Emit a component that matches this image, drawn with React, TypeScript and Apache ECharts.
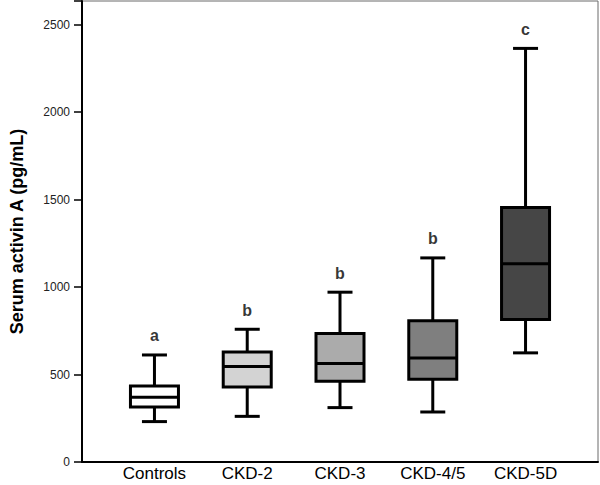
import React, { useEffect, useRef } from "react";
import * as echarts from "echarts";

const categories = ["Controls", "CKD-2", "CKD-3", "CKD-4/5", "CKD-5D"];
// [min, Q1, median, Q3, max]
const whiskerLow = [231, 261, 311, 286, 624];
const q1Values = [315, 429, 462, 473, 815];
const medians = [370, 546, 563, 595, 1133];
const q3Values = [435, 629, 735, 807, 1455];
const whiskerHigh = [612, 759, 971, 1167, 2365];
const letters = ["a", "b", "b", "b", "c"];
const boxColors = ["#ffffff", "#d3d3d3", "#ababab", "#7f7f7f", "#464646"];
const yTicks = [0, 500, 1000, 1500, 2000, 2500];

const FONT = "'Liberation Sans', Arial, sans-serif";

export default function App() {
  const ref = useRef<HTMLDivElement>(null);

  useEffect(() => {
    if (!ref.current) return;
    const chart = echarts.init(ref.current, null, { renderer: "svg" });

    const boxData = categories.map((_, i) => [
      i,
      whiskerLow[i],
      q1Values[i],
      medians[i],
      q3Values[i],
      whiskerHigh[i],
    ]);
    const letterData = categories.map((_, i) => [i, whiskerHigh[i]]);

    const BOX_W = 48;
    const CAP_W = 25;
    const LW = 3;

    chart.setOption({
      animation: false,
      grid: {
        left: 71,
        right: 2,
        top: 1,
        bottom: 23,
        show: true,
        borderColor: "#6a6a6a",
        borderWidth: 1,
        backgroundColor: "transparent",
      },
      xAxis: {
        type: "value",
        min: -0.781,
        max: 4.781,
        splitLine: { show: false },
        axisLine: { show: true, onZero: false, lineStyle: { color: "#000", width: 2 } },
        axisTick: { show: false },
        axisLabel: {
          customValues: [0, 1, 2, 3, 4],
          formatter: (v: number) => categories[Math.round(v)] ?? "",
          fontSize: 17,
          color: "#000",
          fontFamily: FONT,
          margin: 3,
        },
      },
      yAxis: {
        type: "value",
        min: 0,
        max: 2636,
        interval: 500,
        name: "Serum activin A (pg/mL)",
        nameLocation: "middle",
        nameGap: 56,
        nameTextStyle: {
          fontSize: 18,
          fontWeight: "bold",
          color: "#000",
          fontFamily: FONT,
        },
        splitLine: { show: false },
        axisLine: { show: true, onZero: false, lineStyle: { color: "#000", width: 2 } },
        axisTick: { show: true, length: 8, lineStyle: { color: "#000", width: 1.5 } },
        axisLabel: {
          customValues: yTicks,
          formatter: (v: number) => String(v),
          fontSize: 12,
          color: "#222",
          fontFamily: FONT,
          margin: 12,
        },
      },
      series: [
        {
          type: "custom",
          data: boxData,
          encode: { x: 0, y: [1, 2, 3, 4, 5] },
          renderItem: (params: any, api: any) => {
            const i = api.value(0);
            const pMin = api.coord([i, api.value(1)]);
            const pQ1 = api.coord([i, api.value(2)]);
            const pMed = api.coord([i, api.value(3)]);
            const pQ3 = api.coord([i, api.value(4)]);
            const pMax = api.coord([i, api.value(5)]);
            const cx = pMin[0];
            const lineStyle = { stroke: "#000", lineWidth: LW };
            return {
              type: "group",
              children: [
                {
                  type: "line",
                  shape: { x1: cx, y1: pQ3[1], x2: cx, y2: pMax[1] },
                  style: lineStyle,
                },
                {
                  type: "line",
                  shape: { x1: cx, y1: pQ1[1], x2: cx, y2: pMin[1] },
                  style: lineStyle,
                },
                {
                  type: "line",
                  shape: { x1: cx - CAP_W / 2, y1: pMax[1], x2: cx + CAP_W / 2, y2: pMax[1] },
                  style: lineStyle,
                },
                {
                  type: "line",
                  shape: { x1: cx - CAP_W / 2, y1: pMin[1], x2: cx + CAP_W / 2, y2: pMin[1] },
                  style: lineStyle,
                },
                {
                  type: "rect",
                  shape: {
                    x: cx - BOX_W / 2,
                    y: pQ3[1],
                    width: BOX_W,
                    height: pQ1[1] - pQ3[1],
                  },
                  style: { fill: boxColors[params.dataIndex], stroke: "#000", lineWidth: LW },
                },
                {
                  type: "line",
                  shape: { x1: cx - BOX_W / 2, y1: pMed[1], x2: cx + BOX_W / 2, y2: pMed[1] },
                  style: lineStyle,
                },
              ],
            };
          },
        },
        {
          type: "scatter",
          data: letterData,
          symbolSize: 0,
          silent: true,
          itemStyle: { color: "#000" },
          label: {
            show: true,
            position: "top",
            distance: 11,
            formatter: (p: any) => letters[p.dataIndex],
            fontSize: 16,
            fontWeight: "bold",
            color: "#000",
            fontFamily: FONT,
          },
        },
      ],
    });

    return () => chart.dispose();
  }, []);

  return <div ref={ref} style={{ width: 600, height: 485, position: "absolute", left: 0, top: 0 }} />;
}
